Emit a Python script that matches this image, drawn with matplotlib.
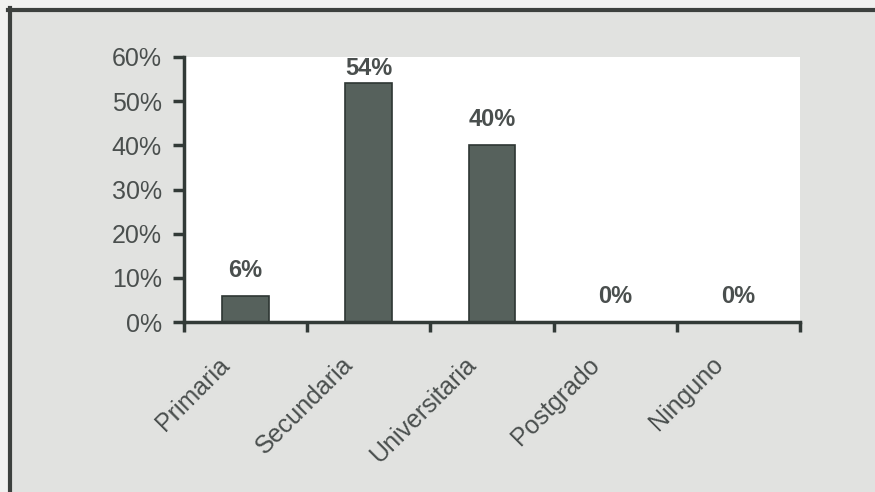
import matplotlib
matplotlib.use("Agg")
import matplotlib.pyplot as plt
from matplotlib.lines import Line2D
from matplotlib.patches import Rectangle
from matplotlib.ticker import FuncFormatter
import numpy as np

categories = ["Primaria", "Secundaria", "Universitaria", "Postgrado", "Ninguno"]
values = [6, 54, 40, 0, 0]
value_labels = ["6%", "54%", "40%", "0%", "0%"]
yticks = [0, 10, 20, 30, 40, 50, 60]

plt.rcParams['font.family'] = ['Liberation Sans', 'DejaVu Sans']

W, H = 875, 492
fig = plt.figure(figsize=(W / 100, H / 100), dpi=100)
fig.patch.set_facecolor("#f1f1f0")

# grey panel and outer frame lines (left and top)
fig.add_artist(Rectangle((10 / W, 0), 1 - 10 / W, 1 - 10 / H, transform=fig.transFigure,
                         facecolor="#e1e2e0", edgecolor="none", zorder=0))
fig.add_artist(Line2D([9.5 / W, 9.5 / W], [0, 1 - 8 / H], transform=fig.transFigure,
                      color="#3c403e", lw=3))
fig.add_artist(Line2D([8 / W, 1], [1 - 9.5 / H, 1 - 9.5 / H], transform=fig.transFigure,
                      color="#3c403e", lw=3))

ax = fig.add_axes([184 / W, 1 - 322 / H, (800 - 184) / W, (322 - 57) / H])
ax.set_facecolor("white")

x = np.arange(len(categories))
ax.bar(x, values, width=0.38, color="#56615c", edgecolor="#2e3633", linewidth=1.2, zorder=2)

ymax = 60
for xi, v, lab in zip(x, values, value_labels):
    if v + 7.5 > ymax:
        # keep the label inside the plot area, as the original does
        ax.annotate(lab, (xi, ymax), xytext=(0, 0), textcoords="offset points",
                    ha="center", va="top", fontsize=17, fontweight="bold", color="#4a4f4e")
    else:
        ax.annotate(lab, (xi, v), xytext=(0, 10), textcoords="offset points",
                    ha="center", va="bottom", fontsize=17, fontweight="bold", color="#4a4f4e")

ax.set_xlim(-0.5, len(categories) - 0.5)
ax.set_ylim(0, ymax)
ax.set_yticks(yticks)
ax.yaxis.set_major_formatter(FuncFormatter(lambda v, p: f"{int(v)}%"))

# category boundaries carry the tick marks; labels are placed under each category
ax.set_xticks(np.arange(len(categories) + 1) - 0.5)
ax.set_xticklabels([])
for xi, cat in zip(x, categories):
    ax.annotate(cat, (xi, 0), xycoords=("data", "axes fraction"),
                xytext=(-14, -28), textcoords="offset points",
                rotation=45, rotation_mode="anchor", ha="right", va="center",
                fontsize=18, color="#4a4f4e", annotation_clip=False)

ax.tick_params(axis="x", direction="out", length=7, width=2.5, color="#323a37")
ax.tick_params(axis="y", direction="out", length=8, width=2.5, color="#323a37",
               labelsize=18, labelcolor="#4a4f4e", pad=8)

for s in ["top", "right"]:
    ax.spines[s].set_visible(False)
for s in ["left", "bottom"]:
    ax.spines[s].set_color("#323a37")
    ax.spines[s].set_linewidth(2.5)

fig.savefig("out.png", dpi=100, facecolor=fig.get_facecolor())
